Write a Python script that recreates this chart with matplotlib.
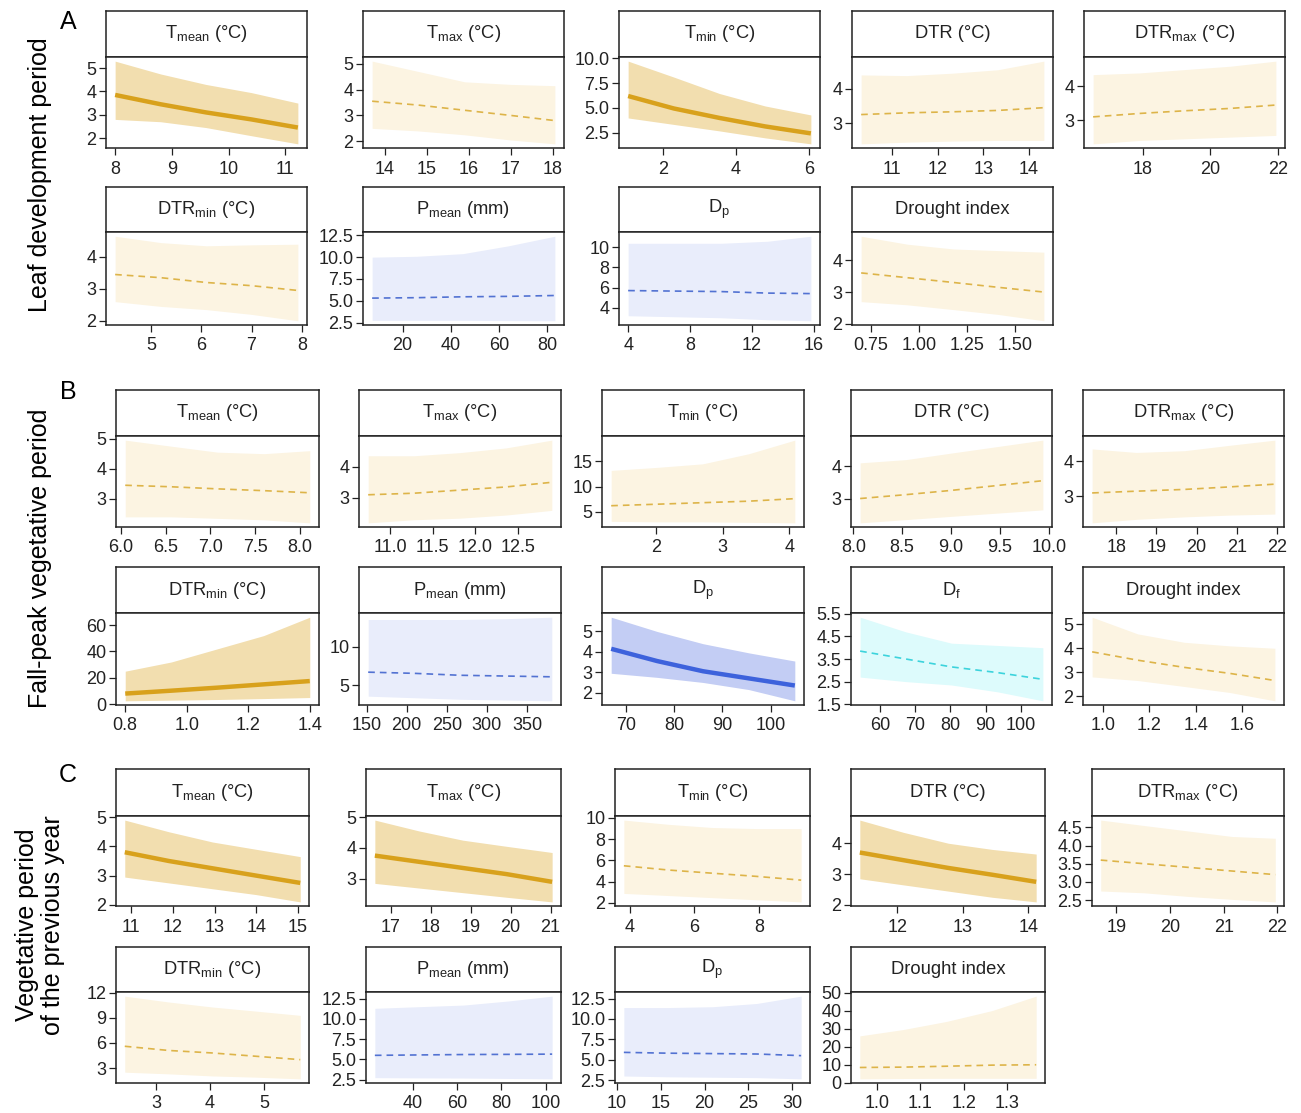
import matplotlib
matplotlib.use("Agg")
import matplotlib.pyplot as plt

W, H = 1301, 1113
plt.rcParams['font.family'] = ['Liberation Sans', 'DejaVu Sans']
plt.rcParams['mathtext.default'] = 'regular'

TMEAN = 'T$_{mean}$ (°C)'
TMAX = 'T$_{max}$ (°C)'
TMIN = 'T$_{min}$ (°C)'
DTR = 'DTR (°C)'
DTRMAX = 'DTR$_{max}$ (°C)'
DTRMIN = 'DTR$_{min}$ (°C)'
PMEAN = 'P$_{mean}$ (mm)'
DP = 'D$_{p}$'
DF = 'D$_{f}$'
DI = 'Drought index'

# ---- A: leaf development period ----
A_titles = [TMEAN, TMAX, TMIN, DTR, DTRMAX, DTRMIN, PMEAN, DP, DI]
A_x = [[8.0, 8.8, 9.6, 10.4, 11.22],
       [13.7, 14.8, 15.9, 17.0, 18.05],
       [1.05, 2.3, 3.55, 4.8, 6.05],
       [10.32, 11.32, 12.32, 13.32, 14.33],
       [16.54, 17.9, 19.25, 20.6, 21.94],
       [4.29, 5.2, 6.1, 7.0, 7.92],
       [7.3, 26, 45, 64, 83.3],
       [4.0, 7, 10, 13, 15.8],
       [0.70, 0.94, 1.18, 1.41, 1.65]]
A_fit = [[3.85, 3.45, 3.1, 2.8, 2.45],
         [3.55, 3.4, 3.2, 3.0, 2.8],
         [6.2, 4.95, 4.0, 3.15, 2.45],
         [3.25, 3.3, 3.33, 3.37, 3.45],
         [3.1, 3.2, 3.28, 3.35, 3.45],
         [3.45, 3.35, 3.2, 3.1, 2.95],
         [5.3, 5.35, 5.45, 5.5, 5.6],
         [5.7, 5.65, 5.6, 5.45, 5.4],
         [3.6, 3.45, 3.3, 3.15, 3.0]]
A_lo = [[2.8, 2.7, 2.45, 2.1, 1.75],
        [2.5, 2.4, 2.25, 2.05, 1.9],
        [4.0, 3.35, 2.7, 2.0, 1.4],
        [2.4, 2.45, 2.48, 2.5, 2.5],
        [2.3, 2.4, 2.45, 2.5, 2.55],
        [2.6, 2.45, 2.35, 2.2, 2.0],
        [2.75, 2.75, 2.75, 2.72, 2.7],
        [3.2, 3.1, 3.0, 2.8, 2.7],
        [2.7, 2.6, 2.45, 2.3, 2.1]]
A_hi = [[5.3, 4.75, 4.3, 3.95, 3.5],
        [5.1, 4.7, 4.3, 4.2, 4.15],
        [9.7, 8.1, 6.45, 5.2, 4.3],
        [4.4, 4.38, 4.45, 4.55, 4.8],
        [4.35, 4.4, 4.5, 4.6, 4.75],
        [4.65, 4.45, 4.35, 4.38, 4.4],
        [10.0, 10.1, 10.4, 11.3, 12.4],
        [10.4, 10.4, 10.4, 10.6, 11.1],
        [4.75, 4.5, 4.35, 4.3, 4.25]]
A_xticks = [['8', '9', '10', '11'], ['14', '15', '16', '17', '18'], ['2', '4', '6'],
            ['11', '12', '13', '14'], ['18', '20', '22'], ['5', '6', '7', '8'],
            ['20', '40', '60', '80'], ['4', '8', '12', '16'], ['0.75', '1.00', '1.25', '1.50']]
A_yticks = [['2', '3', '4', '5'], ['2', '3', '4', '5'], ['2.5', '5.0', '7.5', '10.0'],
            ['3', '4'], ['3', '4'], ['2', '3', '4'], ['2.5', '5.0', '7.5', '10.0', '12.5'],
            ['4', '6', '8', '10'], ['2', '3', '4']]
A_sig = [True, False, True, False, False, False, False, False, False]
A_hue = ['gold', 'gold', 'gold', 'gold', 'gold', 'gold', 'blue', 'blue', 'gold']

# ---- B: fall-peak vegetative period ----
B_titles = [TMEAN, TMAX, TMIN, DTR, DTRMAX, DTRMIN, PMEAN, DP, DF, DI]
B_x = [[6.05, 6.56, 7.08, 7.6, 8.11],
       [10.74, 11.28, 11.82, 12.36, 12.9],
       [1.33, 2.02, 2.7, 3.39, 4.08],
       [8.07, 8.54, 9.0, 9.47, 9.94],
       [17.4, 18.5, 19.7, 20.8, 21.95],
       [0.8, 0.95, 1.1, 1.25, 1.4],
       [152, 209, 266, 323, 381],
       [67, 76.5, 86, 95.5, 105],
       [54.3, 67.3, 80.3, 93.3, 106.3],
       [0.954, 1.15, 1.35, 1.545, 1.74]]
B_fit = [[3.45, 3.4, 3.33, 3.27, 3.2],
         [3.1, 3.15, 3.25, 3.35, 3.5],
         [6.2, 6.5, 6.8, 7.1, 7.6],
         [3.0, 3.12, 3.25, 3.4, 3.55],
         [3.1, 3.15, 3.2, 3.27, 3.35],
         [8, 10.2, 12.5, 15, 17.5],
         [6.7, 6.55, 6.3, 6.2, 6.1],
         [4.15, 3.55, 3.05, 2.7, 2.35],
         [3.85, 3.5, 3.15, 2.9, 2.6],
         [3.85, 3.5, 3.2, 2.95, 2.65]]
B_lo = [[2.4, 2.4, 2.35, 2.3, 2.2],
        [2.2, 2.3, 2.35, 2.45, 2.6],
        [3.1, 3.0, 3.0, 2.9, 2.8],
        [2.25, 2.35, 2.45, 2.55, 2.65],
        [2.25, 2.35, 2.42, 2.47, 2.5],
        [2.5, 3, 3.5, 4.2, 5],
        [3.6, 3.4, 3.2, 3.1, 3.0],
        [2.95, 2.75, 2.5, 2.15, 1.6],
        [2.7, 2.5, 2.35, 2.05, 1.65],
        [2.8, 2.65, 2.4, 2.15, 1.8]]
B_hi = [[4.95, 4.75, 4.55, 4.5, 4.6],
        [4.35, 4.35, 4.45, 4.6, 4.85],
        [13.2, 13.8, 14.5, 16.5, 19.2],
        [4.1, 4.2, 4.4, 4.6, 4.8],
        [4.35, 4.25, 4.3, 4.45, 4.6],
        [25, 32, 42, 52, 66],
        [13.5, 13.5, 13.5, 13.6, 13.8],
        [5.7, 5.0, 4.4, 3.95, 3.55],
        [5.35, 4.7, 4.2, 4.1, 4.0],
        [5.3, 4.6, 4.25, 4.1, 4.0]]
B_xticks = [['6.0', '6.5', '7.0', '7.5', '8.0'], ['11.0', '11.5', '12.0', '12.5'], ['2', '3', '4'],
            ['8.0', '8.5', '9.0', '9.5', '10.0'], ['18', '19', '20', '21', '22'],
            ['0.8', '1.0', '1.2', '1.4'], ['150', '200', '250', '300', '350'],
            ['70', '80', '90', '100'], ['60', '70', '80', '90', '100'], ['1.0', '1.2', '1.4', '1.6']]
B_yticks = [['3', '4', '5'], ['3', '4'], ['5', '10', '15'], ['3', '4'], ['3', '4'],
            ['0', '20', '40', '60'], ['5', '10'], ['2', '3', '4', '5'],
            ['1.5', '2.5', '3.5', '4.5', '5.5'], ['2', '3', '4', '5']]
B_sig = [False, False, False, False, False, True, False, True, False, False]
B_hue = ['gold', 'gold', 'gold', 'gold', 'gold', 'gold', 'blue', 'blue', 'cyan', 'gold']

# ---- C: vegetative period of the previous year ----
C_titles = [TMEAN, TMAX, TMIN, DTR, DTRMAX, DTRMIN, PMEAN, DP, DI]
C_x = [[10.84, 11.9, 12.95, 14.0, 15.06],
       [16.6, 17.7, 18.8, 19.9, 21.04],
       [3.82, 5.2, 6.56, 7.93, 9.3],
       [11.43, 12.1, 12.78, 13.45, 14.12],
       [18.71, 19.52, 20.34, 21.15, 21.96],
       [2.42, 3.23, 4.04, 4.86, 5.67],
       [23, 43, 63, 83, 102.8],
       [10.8, 15.85, 20.9, 25.95, 31],
       [0.96, 1.06, 1.16, 1.265, 1.367]]
C_fit = [[3.8, 3.5, 3.25, 3.0, 2.75],
         [3.75, 3.55, 3.35, 3.15, 2.9],
         [5.5, 5.1, 4.8, 4.5, 4.15],
         [3.7, 3.45, 3.2, 2.98, 2.75],
         [3.6, 3.5, 3.4, 3.3, 3.2],
         [5.6, 5.1, 4.8, 4.4, 4.0],
         [5.5, 5.55, 5.6, 5.62, 5.65],
         [5.9, 5.8, 5.75, 5.7, 5.5],
         [8.5, 8.7, 9.2, 9.8, 10.0]]
C_lo = [[2.95, 2.75, 2.55, 2.35, 2.1],
        [2.85, 2.7, 2.55, 2.4, 2.25],
        [2.9, 2.7, 2.5, 2.3, 2.1],
        [2.85, 2.65, 2.45, 2.25, 2.1],
        [2.75, 2.7, 2.6, 2.52, 2.45],
        [2.5, 2.3, 2.05, 1.9, 1.7],
        [2.75, 2.72, 2.7, 2.65, 2.6],
        [3.0, 2.9, 2.85, 2.8, 2.65],
        [2.2, 2.4, 2.5, 2.5, 2.5]]
C_hi = [[4.9, 4.5, 4.15, 3.9, 3.65],
        [4.9, 4.55, 4.25, 4.05, 3.85],
        [9.8, 9.4, 9.1, 9.0, 9.0],
        [4.75, 4.35, 4.0, 3.8, 3.65],
        [4.7, 4.55, 4.4, 4.25, 4.2],
        [11.6, 10.9, 10.3, 9.8, 9.3],
        [11.3, 11.5, 11.7, 12.2, 12.8],
        [11.4, 11.4, 11.5, 11.9, 12.8],
        [26, 29.5, 34, 40, 48]]
C_xticks = [['11', '12', '13', '14', '15'], ['17', '18', '19', '20', '21'], ['4', '6', '8'],
            ['12', '13', '14'], ['19', '20', '21', '22'], ['3', '4', '5'],
            ['40', '60', '80', '100'], ['10', '15', '20', '25', '30'], ['1.0', '1.1', '1.2', '1.3']]
C_yticks = [['2', '3', '4', '5'], ['3', '4', '5'], ['2', '4', '6', '8', '10'], ['2', '3', '4'],
            ['2.5', '3.0', '3.5', '4.0', '4.5'], ['3', '6', '9', '12'],
            ['2.5', '5.0', '7.5', '10.0', '12.5'], ['2.5', '5.0', '7.5', '10.0', '12.5'],
            ['0', '10', '20', '30', '40', '50']]
C_sig = [True, True, False, True, False, False, False, False, False]
C_hue = ['gold', 'gold', 'gold', 'gold', 'gold', 'gold', 'blue', 'blue', 'gold']

PALETTE = {
    # line, significant fill, non-significant fill, non-significant line
    'gold': ('#D8A11C', '#F2DEAF', '#FCF4E2', '#DDB449'),
    'blue': ('#3D62DC', '#C3CDF4', '#E9EDFB', '#5272D2'),
    'cyan': ('#33D4DE', '#C9F7F8', '#DDFBFC', '#3CD3DC'),
}

fig = plt.figure(figsize=(W / 100, H / 100), dpi=100)


def px_axes(l, r, t, b):
    return fig.add_axes([l / W, 1 - b / H, (r - l) / W, (b - t) / H])


def expand(lo, hi):
    d = (hi - lo) * 0.05
    return lo - d, hi + d


def panel(cols, rows, title, x, fit, lo, hi, xt, yt, sig, hue):
    l, r = cols
    t, m, b = rows
    line_c, sig_fill, ns_fill, ns_line = PALETTE[hue]

    strip = px_axes(l, r, t, m)
    strip.set_xticks([])
    strip.set_yticks([])
    strip.set_facecolor('white')
    for s in strip.spines.values():
        s.set_linewidth(1.1)
        s.set_color('#222222')
    strip.text(0.5, 0.5, title, ha='center', va='center', fontsize=13.2, color='#222222',
               transform=strip.transAxes)

    ax = px_axes(l, r, m, b)
    if sig:
        ax.fill_between(x, lo, hi, color=sig_fill, lw=0)
        ax.plot(x, fit, color=line_c, lw=3.2, solid_capstyle='butt')
    else:
        ax.fill_between(x, lo, hi, color=ns_fill, lw=0)
        ax.plot(x, fit, color=ns_line, lw=1.2, ls=(0, (4, 3)))
    ax.set_xlim(*expand(min(x), max(x)))
    ax.set_ylim(*expand(min(lo), max(hi)))
    ax.set_xticks([float(v) for v in xt])
    ax.set_xticklabels(xt)
    ax.set_yticks([float(v) for v in yt])
    ax.set_yticklabels(yt)
    ax.tick_params(direction='out', length=5, width=0.9, labelsize=13, colors='#222222')
    ax.tick_params(axis='x', pad=4)
    ax.tick_params(axis='y', pad=2)
    for s in ax.spines.values():
        s.set_linewidth(1.1)
        s.set_color('#222222')


def section(titles, xs, fits, los, his, xts, yts, sigs, hues, cols1, cols2, rows1, rows2):
    n1 = len(cols1)
    for i in range(len(titles)):
        cols = cols1[i] if i < n1 else cols2[i - n1]
        rows = rows1 if i < n1 else rows2
        panel(cols, rows, titles[i], xs[i], fits[i], los[i], his[i], xts[i], yts[i],
              sigs[i], hues[i])


colsA = [(106, 307), (363, 564), (619, 820), (852, 1053), (1084, 1285)]
colsB = [(116, 319), (359, 561), (602, 804), (851, 1052), (1083, 1284)]
colsC = [(116, 309), (366, 561), (615, 810), (851, 1045), (1092, 1284)]

section(A_titles, A_x, A_fit, A_lo, A_hi, A_xticks, A_yticks, A_sig, A_hue,
        colsA, colsA[:4], (11, 57, 148), (187, 232, 325))
section(B_titles, B_x, B_fit, B_lo, B_hi, B_xticks, B_yticks, B_sig, B_hue,
        colsB, colsB, (390, 436, 527), (567, 613, 705))
section(C_titles, C_x, C_fit, C_lo, C_hi, C_xticks, C_yticks, C_sig, C_hue,
        colsC, colsC[:4], (769, 816, 906), (947, 992, 1083))

# section letters and row labels
for letter, y in [('A', 22), ('B', 392), ('C', 775)]:
    fig.text(68 / W, 1 - y / H, letter, fontsize=18, ha='center', va='center')

lab_kw = dict(rotation=90, ha='center', va='center', fontsize=18)
fig.text(40 / W, 1 - 175 / H, 'Leaf development period', **lab_kw)
fig.text(40 / W, 1 - 558 / H, 'Fall-peak vegetative period', **lab_kw)
fig.text(40 / W, 1 - 925 / H, 'Vegetative period\nof the previous year', linespacing=1.15, **lab_kw)

fig.savefig('out.png', dpi=100, facecolor='white')
